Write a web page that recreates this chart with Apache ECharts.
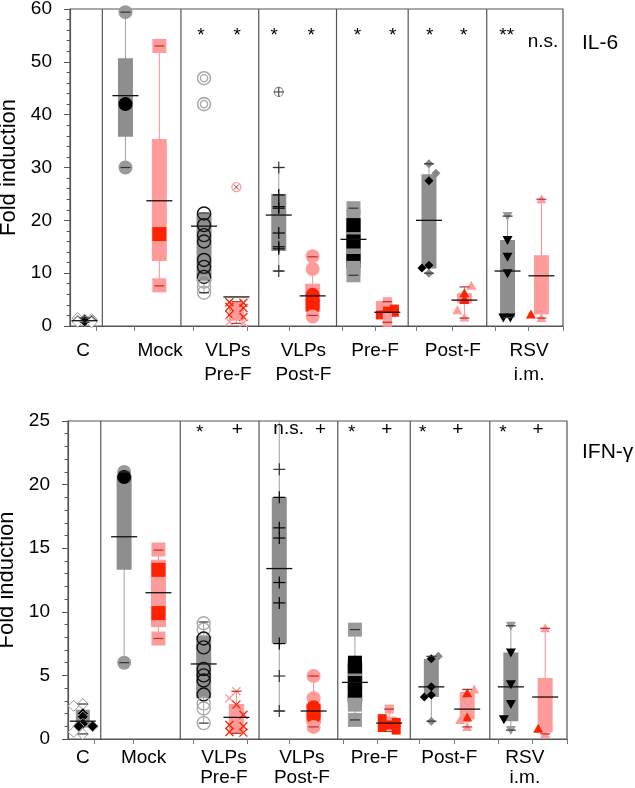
<!DOCTYPE html>
<html><head><meta charset="utf-8">
<script src="https://cdn.jsdelivr.net/npm/echarts@6/dist/echarts.min.js"></script>
<style>html,body{margin:0;padding:0;background:#fff}#c{width:635px;height:788px}</style>
</head><body><div id="c"></div><script>
// ---------- categories / layout positions (axis units) ----------
const groupNames = ['C', 'Mock', 'VLPs\nPre-F', 'VLPs\nPost-F', 'Pre-F', 'Post-F', 'RSV\ni.m.'];
const groupEdges = [0.42, 1.44, 2.45, 3.46, 4.39, 5.41];
const controlPos = 0.19;
const greyPos = [0.72, 1.74, 2.71, 3.68, 4.66, 5.68];
const redPos = [1.16, 2.16, 3.15, 4.12, 5.12, 6.12];
const il6LabelPos = [0.17, 1.17, 2.05, 3.03, 3.96, 4.97, 5.96];
const ifnLabelPos = [0.19, 0.97, 2.0, 3.0, 3.93, 4.89, 5.86];
const xTickPos = [0.34, 0.84, 1.60, 2.30, 2.84, 3.53, 3.96, 4.50, 4.96, 5.52, 5.95, 6.4];
const il6SigPos = [1.70, 2.17, 2.65, 3.13, 3.73, 4.19, 4.67, 5.11, 5.67, 6.14];
const ifnSigPos = [1.69, 2.17, 2.83, 3.24, 3.64, 4.09, 4.55, 5.00, 5.58, 6.03];

// ---------- IL-6 values ----------
// stats rows: [whiskerLow, q1, q3, whiskerHigh, mean]
const il6ControlStats = [0.7, 0.85, 1.25, 1.5, 1.0];
const il6ControlPts = [1.5, 1.3, 1.2, 1.0, 1.0, 0.9, 0.8, 0.7];
const il6GreyStats = [
  [30.0, 35.8, 50.7, 59.4, 43.6],
  [6.3, 8.5, 21.4, 21.4, 18.9],
  [10.4, 14.2, 25.0, 30.0, 21.0],
  [9.6, 11.9, 20.4, 22.3, 16.4],
  [10.0, 10.9, 28.7, 30.7, 20.0],
  [1.6, 1.6, 16.3, 20.8, 10.4]
];
const il6RedStats = [
  [7.6, 12.3, 35.4, 53.0, 23.7],
  [0.5, 1.0, 4.5, 4.6, 5.5],
  [2.0, 2.6, 8.0, 13.1, 5.7],
  [0.7, 1.8, 3.8, 4.6, 2.6],
  [1.5, 4.3, 6.2, 7.4, 4.9],
  [1.5, 2.2, 13.4, 24.0, 9.5]
];
const il6GreyPts = [
  [59.4, 42.0, 30.0],
  [21.3, 19.1, 17.2, 16.0, 12.5, 11.2, 9.3, 8.4, 7.4, 6.3],
  [30.0, 24.8, 22.6, 22.3, 17.6, 15.0, 14.6, 10.4],
  [22.3, 20.8, 19.1, 16.0, 12.3, 11.0, 9.6],
  [30.7, 28.9, 27.5, 11.5, 11.0, 10.0],
  [20.8, 16.3, 13.1, 10.0, 1.6, 1.6]
];
const il6RedPts = [
  [53.0, 17.4, 7.7],
  [4.5, 4.4, 3.6, 3.4, 2.1, 1.7, 0.8, 0.6],
  [13.2, 10.8, 5.9, 4.9, 4.5, 4.0, 3.4, 1.8],
  [4.6, 3.9, 3.2, 2.8, 2.6, 2.1, 1.6, 0.7],
  [7.6, 6.2, 5.1, 4.9, 3.0, 1.6],
  [24.0, 2.2, 1.5]
];
const il6GreyOutliers = [[], [46.9, 42.0], [44.3], [], [], []];
const il6RedOutliers = [[], [26.3], [], [], [], []];
// significance marks for VLPs Pre-F .. RSV i.m. (grey, red alternating)
const il6Signif = ['*', '*', '*', '*', '*', '*', '*', '*', '**', 'n.s.'];

// ---------- IFN-gamma values ----------
const ifnControlStats = [0.4, 0.9, 2.3, 2.75, 1.4];
const ifnControlPts = [2.75, 2.6, 2.0, 1.75, 1.2, 1.0, 1.0, 0.55, 0.4];
const ifnGreyStats = [
  [6.0, 13.3, 20.75, 21.0, 15.9],
  [1.25, 3.2, 8.1, 9.2, 5.9],
  [2.2, 7.5, 19.0, 27.0, 13.4],
  [1.5, 2.9, 6.0, 8.6, 4.45],
  [1.4, 3.3, 6.3, 6.5, 4.1],
  [0.7, 1.4, 6.8, 8.9, 4.1]
];
const ifnRedStats = [
  [7.9, 8.8, 14.1, 14.85, 11.5],
  [0.45, 0.45, 2.75, 3.75, 1.7],
  [0.95, 1.2, 2.8, 4.95, 2.2],
  [0.6, 0.7, 1.75, 2.35, 1.25],
  [0.95, 1.55, 3.7, 3.9, 2.35],
  [0.4, 0.5, 4.8, 8.7, 3.3]
];
const ifnGreyPts = [
  [21.0, 20.6, 6.0],
  [9.1, 8.6, 7.9, 7.2, 5.5, 5.0, 4.6, 3.5, 2.8, 2.4, 1.25],
  [21.2, 19.0, 16.6, 15.8, 12.3, 10.7, 7.5, 4.95, 2.2],
  [8.6, 6.0, 5.7, 4.4, 3.6, 3.0, 2.7, 1.5],
  [6.5, 6.3, 4.1, 3.45, 3.3, 1.4],
  [8.9, 6.8, 4.3, 2.75, 1.55, 0.7]
];
const ifnRedPts = [
  [14.9, 13.3, 9.9, 7.9],
  [3.75, 3.2, 2.7, 1.9, 1.1, 1.0, 0.55, 0.5],
  [4.95, 3.2, 2.5, 2.1, 1.9, 1.7, 0.95],
  [2.35, 1.6, 1.3, 1.1, 0.9, 0.7],
  [3.9, 3.6, 1.7, 1.5, 0.95],
  [8.7, 0.8, 0.4]
];
const ifnGreyOutliers = [[], [], [], [], [], []];
const ifnRedOutliers = [[], [], [], [], [], []];
const ifnSignif = ['*', '+', 'n.s.', '+', '*', '+', '*', '+', '*', '+'];

// ---------- horizontal spread of overlapping points (jitter steps) ----------
const il6ControlJit = [-1, 1, 0, -1, 1, 0, -1, 1];
const il6GreyJit = [[], [], [], [], [0, 1, 0, 0, -1, 0], [0, 0, 0, 0, -0.6, 0.4]];
const il6RedJit = [[], [-1, 1, -1, 1, -1, 1, -1, 1], [], [0, -1, 1, 0, 1, -1, 0, 0], [1, 0, 0, 0, -1, 0], [0, -1.5, 0]];
const ifnControlJit = [0, -1.3, 0, 0, 0, 1.4, -0.6, -1.3, 0];
const ifnGreyJit = [[], [], [], [], [1, 0, 0, 0, -1, 0], [0, 0, 0, 0, -1, 0]];
const ifnRedJit = [[], [0, -1, 0, 1, -1, 1, -1, 1], [], [0, -1, 1, 0, -1, 1], [1, 0, 0, -1, 0], [0, -1, 0]];

// ---------- styles ----------
const FONT = "'Liberation Sans', Arial, Helvetica, sans-serif";
const GREY_BOX = '#8e8e8e', GREY_WHISK = '#a0a0a0', GREY_IN = '#000000', GREY_OUT = '#9a9a9a';
const RED_BOX = '#ff9b9b', RED_WHISK = '#ff8e8e', RED_IN = '#ff2200', RED_OUT = '#ff9b9b';
const FRAME = '#555555';
const SYM = {circle: 0, ring: 1, plus: 2, square: 3, diamondS: 4, triDown: 5, cross: 6, squareS: 7, triUp: 8, diamond: 9, ring2: 10, circleX: 11, circlePlus: 12};
const greySym = [SYM.circle, SYM.ring, SYM.plus, SYM.square, SYM.diamondS, SYM.triDown];
const redSym = [SYM.square, SYM.cross, SYM.circle, SYM.squareS, SYM.triUp, SYM.triUp];
const greyOutSym = [SYM.ring2, SYM.ring2, SYM.circlePlus, SYM.ring2, SYM.ring2, SYM.ring2];
const redOutSym = [SYM.circleX, SYM.circleX, SYM.circleX, SYM.circleX, SYM.circleX, SYM.circleX];

function inBox(v, s) { return v >= s[1] - 1e-9 && v <= s[2] + 1e-9 ? 1 : 0; }

function buildPanel(cStats, cPts, cJit, gStats, gPts, gJit, rStats, rPts, rJit, gOut, rOut) {
  const boxes = [], points = [];
  boxes.push([controlPos].concat(cStats, [2]));
  cPts.forEach((v, i) => points.push([controlPos, v, SYM.diamond, inBox(v, cStats), 2, cJit[i] || 0]));
  for (let g = 0; g < 6; g++) {
    boxes.push([greyPos[g]].concat(gStats[g], [0]));
    boxes.push([redPos[g]].concat(rStats[g], [1]));
    gPts[g].forEach((v, i) => points.push([greyPos[g], v, greySym[g], inBox(v, gStats[g]), 0, (gJit[g] || [])[i] || 0]));
    rPts[g].forEach((v, i) => points.push([redPos[g], v, redSym[g], inBox(v, rStats[g]), 1, (rJit[g] || [])[i] || 0]));
    gOut[g].forEach(v => points.push([greyPos[g], v, greyOutSym[g], 0, 0, 0]));
    rOut[g].forEach(v => points.push([redPos[g], v, redOutSym[g], 0, 1, 0]));
  }
  return {boxes, points};
}

const il6 = buildPanel(il6ControlStats, il6ControlPts, il6ControlJit, il6GreyStats, il6GreyPts, il6GreyJit,
  il6RedStats, il6RedPts, il6RedJit, il6GreyOutliers, il6RedOutliers);
const ifn = buildPanel(ifnControlStats, ifnControlPts, ifnControlJit, ifnGreyStats, ifnGreyPts, ifnGreyJit,
  ifnRedStats, ifnRedPts, ifnRedJit, ifnGreyOutliers, ifnRedOutliers);

function sigData(positions, yTop) { return positions.map(p => [p, yTop]); }

function renderBox(params, api) {
  const x = api.value(0), kind = api.value(6);
  const lo = api.coord([x, api.value(1)]), q1 = api.coord([x, api.value(2)]);
  const q3 = api.coord([x, api.value(3)]), hi = api.coord([x, api.value(4)]);
  const w = kind === 2 ? 14 : 15;
  const fill = kind === 1 ? RED_BOX : GREY_BOX;
  const wc = kind === 1 ? RED_WHISK : GREY_WHISK;
  return {type: 'group', children: [
    {type: 'line', shape: {x1: lo[0], y1: lo[1], x2: hi[0], y2: hi[1]}, style: {stroke: wc, lineWidth: 1}},
    {type: 'rect', shape: {x: q3[0] - w / 2, y: q3[1], width: w, height: Math.max(q1[1] - q3[1], 1)}, style: {fill: fill}}
  ]};
}

function renderMean(params, api) {
  const x = api.value(0), kind = api.value(6);
  const lo = api.coord([x, api.value(1)]), hi = api.coord([x, api.value(4)]);
  const m = api.coord([x, api.value(5)]);
  const capCol = kind === 1 ? '#b03030' : '#333333';
  const mw = 13;
  return {type: 'group', children: [
    {type: 'line', shape: {x1: lo[0] - 5, y1: lo[1], x2: lo[0] + 5, y2: lo[1]}, style: {stroke: capCol, lineWidth: 1.2}},
    {type: 'line', shape: {x1: hi[0] - 5, y1: hi[1], x2: hi[0] + 5, y2: hi[1]}, style: {stroke: capCol, lineWidth: 1.2}},
    {type: 'line', shape: {x1: m[0] - mw, y1: m[1], x2: m[0] + mw, y2: m[1]}, style: {stroke: '#111', lineWidth: 1.3}}
  ]};
}

function renderPoint(params, api) {
  const c = api.coord([api.value(0), api.value(1)]);
  const sym = api.value(2), inside = api.value(3), kind = api.value(4), jit = api.value(5);
  const x = c[0] + jit * 7, y = c[1];
  const red = kind === 1;
  const col = red ? (inside ? RED_IN : RED_OUT) : (inside ? GREY_IN : GREY_OUT);
  const line = (x1, y1, x2, y2, s, w) => ({type: 'line', shape: {x1, y1, x2, y2}, style: {stroke: s, lineWidth: w || 1.2}});
  const poly = (pts, f, s) => ({type: 'polygon', shape: {points: pts}, style: {fill: f, stroke: s || null, lineWidth: 1}});
  switch (sym) {
    case SYM.circle: return {type: 'circle', shape: {cx: x, cy: y, r: 7}, style: {fill: col}};
    case SYM.ring: return {type: 'circle', shape: {cx: x, cy: y, r: 6.5}, style: {fill: 'none', stroke: inside ? '#111' : '#aaa', lineWidth: 1.4}};
    case SYM.plus: {
      const s = inside ? '#000' : '#333';
      return {type: 'group', children: [line(x - 6, y, x + 6, y, s), line(x, y - 6, x, y + 6, s)]};
    }
    case SYM.square: return {type: 'rect', shape: {x: x - 7, y: y - 7, width: 14, height: 14}, style: {fill: col}};
    case SYM.squareS: return {type: 'rect', shape: {x: x - 4.5, y: y - 4.5, width: 9, height: 9}, style: {fill: col}};
    case SYM.diamondS: return poly([[x, y - 4.5], [x + 4.5, y], [x, y + 4.5], [x - 4.5, y]], inside ? '#000' : '#888');
    case SYM.diamond: return poly([[x, y - 5.5], [x + 5.5, y], [x, y + 5.5], [x - 5.5, y]], inside ? '#000' : '#fff', '#999');
    case SYM.triUp: return poly([[x, y - 5], [x + 5, y + 4], [x - 5, y + 4]], col);
    case SYM.triDown: return poly([[x - 5, y - 4], [x + 5, y - 4], [x, y + 5]], col);
    case SYM.cross: return {type: 'group', children: [line(x - 4, y - 4, x + 4, y + 4, col, 1.3), line(x - 4, y + 4, x + 4, y - 4, col, 1.3)]};
    case SYM.ring2: return {type: 'group', children: [
      {type: 'circle', shape: {cx: x, cy: y, r: 6.5}, style: {fill: 'none', stroke: '#aaa', lineWidth: 1.6}},
      {type: 'circle', shape: {cx: x, cy: y, r: 3.6}, style: {fill: 'none', stroke: '#aaa', lineWidth: 1.4}}]};
    case SYM.circleX: return {type: 'group', children: [
      {type: 'circle', shape: {cx: x, cy: y, r: 4.5}, style: {fill: '#fff', stroke: '#ff9b9b', lineWidth: 1.3}},
      line(x - 2.5, y - 2.5, x + 2.5, y + 2.5, '#c03030', 1), line(x - 2.5, y + 2.5, x + 2.5, y - 2.5, '#c03030', 1)]};
    case SYM.circlePlus: return {type: 'group', children: [
      {type: 'circle', shape: {cx: x, cy: y, r: 4.5}, style: {fill: '#fff', stroke: '#999', lineWidth: 1.2}},
      line(x - 5, y, x + 5, y, '#333', 1), line(x, y - 5, x, y + 5, '#333', 1)]};
  }
  return null;
}

function renderEdges(params, api) {
  const cs = params.coordSys;
  const px = api.coord([api.value(0), 0])[0];
  return {type: 'line', shape: {x1: px, y1: cs.y, x2: px, y2: cs.y + cs.height}, style: {stroke: FRAME, lineWidth: 1.2}};
}

function makeSigRender(labels, offsets) {
  return function (params, api) {
    const t = labels[params.dataIndex];
    const c = api.coord([api.value(0), api.value(1)]);
    const off = t === 'n.s.' ? offsets.ns : (t === '+' ? offsets.plus : offsets.star);
    return {type: 'text', x: c[0], y: c[1] + off, style: {text: t, fill: '#000', font: '19px ' + FONT, textAlign: 'center', textVerticalAlign: 'middle'}};
  };
}

function nearestLabel(positions) {
  return function (value) {
    let best = 0, bd = 1e9;
    positions.forEach((p, i) => { const d = Math.abs(p - value); if (d < bd) { bd = d; best = i; } });
    return groupNames[best];
  };
}

function xAxisCfg(gridIndex, labelPos, margin, lineHeight) {
  return {
    type: 'value', gridIndex, min: 0, max: 6.4,
    splitLine: {show: false},
    axisLine: {lineStyle: {color: FRAME, width: 1.2}},
    axisTick: {customValues: xTickPos, length: 5, lineStyle: {color: '#777'}},
    axisLabel: {customValues: labelPos, formatter: nearestLabel(labelPos), color: '#000', fontSize: 19, fontFamily: FONT, margin, lineHeight}
  };
}

function yAxisCfg(gridIndex, max, interval) {
  return {
    type: 'value', gridIndex, min: 0, max, interval,
    splitLine: {show: false},
    axisLine: {show: true, lineStyle: {color: FRAME, width: 1.2}},
    axisTick: {show: true, length: 6, lineStyle: {color: FRAME}},
    minorTick: {show: true, splitNumber: 5, length: 3.5, lineStyle: {color: FRAME}},
    axisLabel: {color: '#000', fontSize: 19, fontFamily: FONT, margin: 18},
    name: 'Fold induction', nameLocation: 'middle', nameGap: 48,
    nameTextStyle: {color: '#000', fontSize: 22, fontFamily: FONT}
  };
}

function panelSeries(idx, data, labels, sigPos, sigY, sigOff) {
  return [
    {type: 'custom', xAxisIndex: idx, yAxisIndex: idx, renderItem: renderEdges, data: groupEdges.map(e => [e]), silent: true},
    {type: 'custom', xAxisIndex: idx, yAxisIndex: idx, renderItem: renderBox, data: data.boxes, clip: true, silent: true},
    {type: 'custom', xAxisIndex: idx, yAxisIndex: idx, renderItem: renderPoint, data: data.points, clip: false, silent: true},
    {type: 'custom', xAxisIndex: idx, yAxisIndex: idx, renderItem: renderMean, data: data.boxes, clip: true, silent: true},
    {type: 'custom', xAxisIndex: idx, yAxisIndex: idx, renderItem: makeSigRender(labels, sigOff), data: sigData(sigPos, sigY), clip: false, silent: true}
  ];
}

const chart = echarts.init(document.getElementById('c'), null, {renderer: 'canvas'});
chart.setOption({
  animation: false,
  backgroundColor: '#fff',
  grid: [
    {left: 70, top: 9, width: 493, height: 317, show: true, borderColor: FRAME, borderWidth: 1.2, backgroundColor: 'transparent', containLabel: false, outerBoundsMode: 'none'},
    {left: 68, top: 421, width: 499, height: 318, show: true, borderColor: FRAME, borderWidth: 1.2, backgroundColor: 'transparent', containLabel: false, outerBoundsMode: 'none'}
  ],
  xAxis: [xAxisCfg(0, il6LabelPos, 13, 24), xAxisCfg(1, ifnLabelPos, 9, 20)],
  yAxis: [yAxisCfg(0, 60, 10), yAxisCfg(1, 25, 5)],
  graphic: [
    {type: 'text', left: 582, top: 33, style: {text: 'IL-6', font: '21px ' + FONT, fill: '#000'}},
    {type: 'text', left: 582, top: 442, style: {text: 'IFN-γ', font: '21px ' + FONT, fill: '#000'}}
  ],
  series: [].concat(
    panelSeries(0, il6, il6Signif, il6SigPos, 60, {star: 27, ns: 33, plus: 27}),
    panelSeries(1, ifn, ifnSignif, ifnSigPos, 25, {star: 12, ns: 8, plus: 9})
  )
});
</script></body></html>
